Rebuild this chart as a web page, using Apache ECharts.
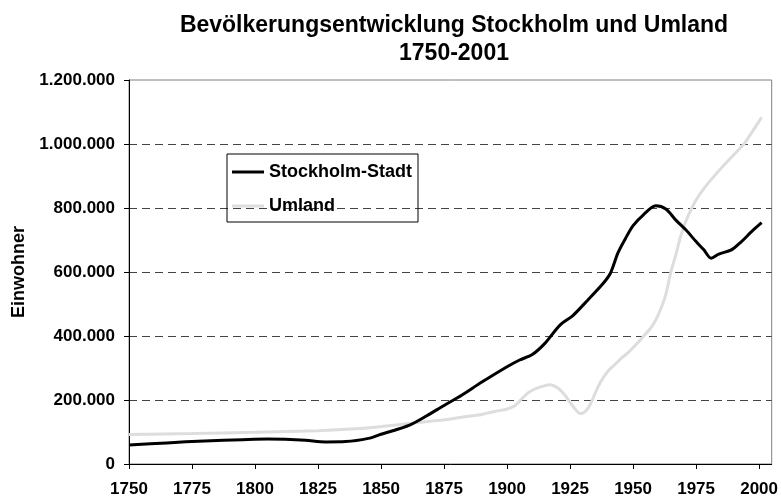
<!DOCTYPE html>
<html>
<head>
<meta charset="utf-8">
<script src="https://cdn.jsdelivr.net/npm/echarts@6/dist/echarts.min.js"></script>
<style>
html,body{margin:0;padding:0;background:#fff;}
#chart{width:781px;height:499px;}
</style>
</head>
<body>
<div id="chart"></div>
<script>
// ---- data (values in inhabitants) ----
const stadtYears = [1750,1765,1780,1795,1805,1812,1820,1828,1836,1845,1850,1856,1862,1868,1875,1882,1890,1900,1905,1910,1915,1921,1926,1932,1938,1941,1944,1947,1950,1954,1959,1963,1967,1971,1975,1978,1981,1984,1989,1993,1997,2001];
const stadtValues = [59000,66000,72000,76000,78000,77000,74000,69000,70000,80000,93000,107000,124000,150000,183000,215000,256000,304000,325000,342000,377000,434000,463000,512000,563000,596000,660000,705000,745000,778000,807000,797000,762000,731000,695000,670000,643000,656000,669000,695000,726000,754000];

const umlandYears = [1750,1775,1800,1825,1840,1850,1862,1870,1877,1882,1890,1895,1900,1903,1906,1909,1913,1917,1920,1923,1926,1929,1931,1933,1935,1937,1940,1942,1945,1948,1951,1954,1957,1959,1961,1963,1965,1967,1969,1971,1973,1975,1978,1982,1985,1988,1991,1994,1997,2001];
const umlandValues = [92000,95000,99000,104000,110000,117000,127000,134000,140000,146000,155000,164000,172000,181000,205000,226000,240000,248000,238000,215000,182000,158000,164000,186000,222000,255000,290000,305000,328000,348000,372000,398000,425000,450000,485000,530000,600000,655000,715000,760000,795000,825000,860000,898000,925000,950000,975000,1000000,1035000,1083000];

const xTicks = [1750,1775,1800,1825,1850,1875,1900,1925,1950,1975,2000];
const yTicks = [0,200000,400000,600000,800000,1000000,1200000];

const seriesNames = ['Stockholm-Stadt','Umland'];
const seriesColors = ['#000000','#dddddd'];
const titleText = 'Bevölkerungsentwicklung Stockholm und Umland\n1750-2001';
const yAxisName = 'Einwohner';

// ---- chart ----
const FONT = 'Liberation Sans, Arial, sans-serif';
const fmt = v => String(v).replace(/\B(?=(\d{3})+(?!\d))/g, '.');
const pair = (xs, ys) => xs.map((x, i) => [x, ys[i]]);

const chart = echarts.init(document.getElementById('chart'), null, {renderer: 'canvas'});
chart.setOption({
  animation: false,
  backgroundColor: '#ffffff',
  title: {
    text: titleText,
    left: 449,
    top: 7,
    textAlign: 'center',
    textStyle: {fontFamily: FONT, fontSize: 23, fontWeight: 'bold', color: '#000', lineHeight: 28}
  },
  legend: {
    orient: 'vertical',
    left: 227,
    top: 154,
    data: seriesNames.map((n, i) => ({name: n, icon: 'rect', itemStyle: {color: seriesColors[i]}})),
    itemWidth: 32,
    itemHeight: 3,
    itemGap: 16,
    padding: [9, 6, 7, 5],
    borderColor: '#000',
    borderWidth: 1,
    textStyle: {fontFamily: FONT, fontSize: 18, fontWeight: 'bold', color: '#000'}
  },
  grid: {
    left: 129, right: 6, top: 80, bottom: 35,
    show: true, borderColor: '#808080', borderWidth: 1, backgroundColor: 'transparent'
  },
  xAxis: {
    type: 'value',
    min: 1750, max: 2005,
    axisLine: {show: true, lineStyle: {color: '#000', width: 1}},
    axisTick: {show: true, length: 5, customValues: xTicks, lineStyle: {color: '#000'}},
    axisLabel: {customValues: xTicks, formatter: v => String(v), margin: 17, fontFamily: FONT, fontSize: 17, fontWeight: 'bold', color: '#000'},
    splitLine: {show: false}
  },
  yAxis: {
    type: 'value',
    min: 0, max: 1200000, interval: 200000,
    name: yAxisName,
    nameLocation: 'middle',
    nameRotate: 90,
    nameGap: 99,
    nameTextStyle: {fontFamily: FONT, fontSize: 18, fontWeight: 'bold', color: '#000'},
    axisLine: {show: true, lineStyle: {color: '#000', width: 1}},
    axisTick: {show: true, length: 5, lineStyle: {color: '#000'}},
    axisLabel: {margin: 14, formatter: fmt, fontFamily: FONT, fontSize: 17, fontWeight: 'bold', color: '#000'},
    splitLine: {show: true, showMinLine: false, showMaxLine: false, lineStyle: {color: '#444', type: [8, 5], width: 1}}
  },
  series: [
    {
      name: seriesNames[1],
      type: 'line',
      data: pair(umlandYears, umlandValues),
      symbol: 'none',
      smooth: 0.3,
      lineStyle: {color: seriesColors[1], width: 3},
      itemStyle: {color: seriesColors[1]},
      z: 2
    },
    {
      name: seriesNames[0],
      type: 'line',
      data: pair(stadtYears, stadtValues),
      symbol: 'none',
      smooth: 0.3,
      lineStyle: {color: seriesColors[0], width: 3},
      itemStyle: {color: seriesColors[0]},
      z: 3
    }
  ]
});
</script>
</body>
</html>
